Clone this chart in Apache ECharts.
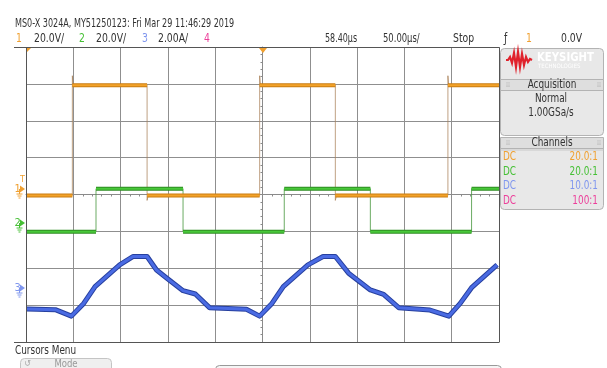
<!DOCTYPE html>
<html>
<head>
<meta charset="utf-8">
<script src="https://cdn.jsdelivr.net/npm/echarts@6/dist/echarts.min.js"></script>
<style>
  html, body { margin: 0; padding: 0; background: #fff; }
  #scope { width: 607px; height: 368px; }
</style>
</head>
<body>
<div id="scope"></div>
<script>
// ---- Captured waveform data (time in microseconds) ----
// Channel 1: switching node voltage (V)
const ch1RiseUs = [-201, -3, 196];
const ch1FallUs = [-122, 77];
const ch1HighV = 56.2;
const ch1LowV = -3.6;
const ch1SpikeV = 61.3;
const ch1DipV = -6.3;

// Channel 2: gate drive voltage (V)
const ch2RiseUs = [-176, 23, 221];
const ch2FallUs = [-84, 114];
const ch2HighV = 18.7;
const ch2LowV = -4.6;

// Channel 3: inductor current (A)
const ch3TimeUs = [-249, -219, -202, -189, -177, -151, -137, -122, -112, -101, -84, -71, -56,
                   -17, -3, 10, 22, 48, 64, 77, 91, 114, 128, 144, 177, 197, 209, 221, 248];
const ch3Amps   = [-1.13, -1.16, -1.51, -0.82, 0.09, 1.27, 1.72, 1.72, 0.99, 0.54, -0.13, -0.31, -1.05,
                   -1.14, -1.51, -0.82, 0.09, 1.27, 1.72, 1.72, 0.82, -0.09, -0.33, -1.05, -1.18, -1.51, -0.82, 0.03, 1.27];

// Vertical settings per channel: units per division and ground position (divisions from centre)
const chScale  = [20, 20, 2];
const chGround = [0.155, -0.777, -2.543];

const T_MIN = -250, T_MAX = 250;

// Build level segments and edge segments of a two-level waveform
function squareWave(rises, falls, hi, lo, spike, dip) {
  const ev = rises.map(t => ({ t, up: true })).concat(falls.map(t => ({ t, up: false })))
                  .sort((a, b) => a.t - b.t);
  const levels = [], edges = [];
  let state = lo, t0 = T_MIN;
  ev.forEach(e => {
    levels.push([t0, state], [e.t, state], '-');
    const next = e.up ? hi : lo;
    if (e.up) {
      edges.push([e.t, state], [e.t, spike !== undefined ? spike : hi], [e.t + 0.8, hi], '-');
    } else {
      edges.push([e.t, state], [e.t, dip !== undefined ? dip : lo], [e.t + 1.2, lo], '-');
    }
    state = next; t0 = e.t;
  });
  levels.push([t0, state], [T_MAX, state]);
  return { levels, edges };
}

const w1 = squareWave(ch1RiseUs, ch1FallUs, ch1HighV, ch1LowV, ch1SpikeV, ch1DipV);
const w2 = squareWave(ch2RiseUs, ch2FallUs, ch2HighV, ch2LowV);
const w3 = ch3TimeUs.map((t, i) => [t, ch3Amps[i]]);

function chAxis(i) {
  return {
    type: 'value', show: false,
    min: (-4 - chGround[i]) * chScale[i],
    max: (4 - chGround[i]) * chScale[i]
  };
}

function trace(data, axis, color, width, z) {
  return {
    type: 'line', data, yAxisIndex: axis, showSymbol: false, symbol: 'none',
    connectNulls: false, animation: false, silent: true, z: z || 2,
    lineStyle: { color, width, join: 'round', cap: 'butt' }
  };
}

const FONT = '"Liberation Sans Narrow", "DejaVu Sans Condensed", sans-serif';
const ORANGE = '#f0a030', GREEN = '#46c035', BLUE = '#7f96ee', PINK = '#ec3f9a';

// Scope-style narrow text; sx squeezes the glyphs horizontally
function txt(x, y, text, fill, size, align, weight, sx) {
  return { type: 'text', x, y, silent: true, z: 100, scaleX: sx || 0.86,
    style: { text, fill: fill || '#333', font: (weight || 'normal') + ' ' + (size || 11) + 'px ' + FONT,
             textAlign: align || 'left', textVerticalAlign: 'middle' } };
}
function line(x1, y1, x2, y2, stroke, w) {
  return { type: 'line', silent: true, z: 100, shape: { x1, y1, x2, y2 }, style: { stroke, lineWidth: w || 1 } };
}
function rect(x, y, w, h, fill, stroke, r) {
  return { type: 'rect', silent: true, z: 99, shape: { x, y, width: w, height: h, r: r || 0 },
           style: { fill, stroke, lineWidth: 1 } };
}
function poly(points, fill) {
  return { type: 'polygon', silent: true, z: 100, shape: { points }, style: { fill } };
}
// Channel ground marker on the left edge
function marker(y, label, color, withT) {
  const g = [
    txt(14.5, y, label, color, 11, 'left', 'normal', 1),
    poly([[20, y - 3.5], [25, y], [20, y + 3.5]], color),
    line(19.5, y, 19.5, y + 5, color, 1),
    line(16.5, y + 5, 22.5, y + 5, color, 1),
    line(17.5, y + 7, 21.5, y + 7, color, 1),
    line(18.5, y + 9, 20.5, y + 9, color, 1)
  ];
  if (withT) g.push(txt(20, y - 9, 'T', color, 9, 'left', 'normal', 1));
  return g;
}

const graphics = [
  // Header
  txt(15, 24, 'MS0-X 3024A, MY51250123: Fri Mar 29 11:46:29 2019', '#333', 11.5, 'left', 'normal', 0.78),
  txt(16, 39, '1', ORANGE, 12), txt(34, 39, '20.0V/', '#333', 12),
  txt(79, 39, '2', GREEN, 12), txt(96, 39, '20.0V/', '#333', 12),
  txt(142, 39, '3', BLUE, 12), txt(158, 39, '2.00A/', '#333', 12),
  txt(204, 39, '4', PINK, 12),
  txt(325, 39, '58.40µs', '#333', 12, 'left', 'normal', 0.74),
  txt(383, 39, '50.00µs/', '#333', 12, 'left', 'normal', 0.78),
  txt(453, 39, 'Stop', '#333', 12),
  txt(504, 39, 'ƒ', '#333', 12),
  txt(526, 39, '1', ORANGE, 12),
  txt(561, 39, '0.0V', '#333', 12),

  // Screen borders
  line(14, 47.5, 499, 47.5, '#555', 1),
  line(14, 342.5, 499, 342.5, '#555', 1),
  line(26.5, 47.5, 26.5, 342.5, '#555', 1),
  line(499.5, 47.5, 499.5, 342.5, '#555', 1),

  // Trigger / time reference markers
  poly([[259, 48], [267, 48], [263, 53]], ORANGE),
  poly([[27, 48], [31, 48], [27, 52]], ORANGE),

  // Right side panel: logo + acquisition
  rect(500.5, 48.5, 103, 87, '#e8e8e8', '#b3b3b3', 4),
  { type: 'polyline', silent: true, z: 101,
    shape: { points: [[506, 60], [508, 60], [510, 57], [512, 63], [514, 53], [516, 67], [518, 52], [520, 67],
                      [522, 54], [524, 65], [526, 57], [528, 62], [530, 59], [532, 60]] },
    style: { stroke: '#e0222c', lineWidth: 2.2, fill: null } },
  txt(537, 58, 'KEYSIGHT', '#ffffff', 12.5, 'left', 'bold', 0.9),
  txt(538, 66.5, 'TECHNOLOGIES', '#ffffff', 6, 'left', 'normal', 1),
  rect(500.5, 79.5, 103, 11, '#dedede', '#b3b3b3', 0),
  txt(552, 85, 'Acquisition', '#333', 11.5, 'center'),
  txt(506, 85, '⁞⁞', '#aaa', 7, 'left', 'normal', 1), txt(597, 85, '⁞⁞', '#aaa', 7, 'left', 'normal', 1),
  txt(551, 99.5, 'Normal', '#333', 11.5, 'center'),
  txt(551, 113.5, '1.00GSa/s', '#333', 11.5, 'center'),

  // Right side panel: channels
  rect(500.5, 137.5, 103, 72, '#e8e8e8', '#b3b3b3', 4),
  rect(500.5, 137.5, 103, 11, '#dedede', '#b3b3b3', 0),
  txt(552, 143.5, 'Channels', '#333', 11.5, 'center'),
  txt(506, 143.5, '⁞⁞', '#aaa', 7, 'left', 'normal', 1), txt(597, 143.5, '⁞⁞', '#aaa', 7, 'left', 'normal', 1),
  line(500.5, 150, 603.5, 150, '#c8c8c8', 1),
  txt(503, 157, 'DC', ORANGE, 11.5), txt(598, 157, '20.0:1', ORANGE, 11.5, 'right'),
  txt(503, 172, 'DC', GREEN, 11.5), txt(598, 172, '20.0:1', GREEN, 11.5, 'right'),
  txt(503, 186.5, 'DC', BLUE, 11.5), txt(598, 186.5, '10.0:1', BLUE, 11.5, 'right'),
  txt(503, 201, 'DC', PINK, 11.5), txt(598, 201, '100:1', PINK, 11.5, 'right'),

  // Bottom soft-key area
  txt(15, 351, 'Cursors Menu', '#333', 11.5),
  rect(20.5, 358.5, 91, 14, '#efefef', '#c4c4c4', 4),
  txt(24, 364, '↺', '#aaa', 9, 'left', 'normal', 1),
  txt(66, 364, 'Mode', '#999', 11, 'center'),
  rect(215.5, 365.5, 286, 10, '#f5f5f5', '#999', 4)
].concat(marker(189, '1', ORANGE, true), marker(223, '2', GREEN), marker(288, '3', BLUE));

const chart = echarts.init(document.getElementById('scope'), null, { renderer: 'canvas' });
chart.setOption({
  backgroundColor: '#ffffff',
  animation: false,
  grid: { left: 26, top: 47, width: 473, height: 295, containLabel: false },
  xAxis: {
    type: 'value', min: T_MIN, max: T_MAX, interval: 50,
    axisLine: { onZero: true, onZeroAxisIndex: 0, lineStyle: { color: '#8a8a8a', width: 1 } },
    axisTick: { show: true, length: 3, lineStyle: { color: '#8a8a8a' } },
    minorTick: { show: true, splitNumber: 5, length: 2, lineStyle: { color: '#8a8a8a' } },
    axisLabel: { show: false },
    splitLine: { show: true, lineStyle: { color: '#8f8f8f', width: 1 } }
  },
  yAxis: [
    {
      type: 'value', min: -4, max: 4, interval: 1,
      axisLine: { onZero: true, lineStyle: { color: '#8a8a8a', width: 1 } },
      axisTick: { show: true, length: 3, lineStyle: { color: '#8a8a8a' } },
      minorTick: { show: true, splitNumber: 5, length: 2, lineStyle: { color: '#8a8a8a' } },
      axisLabel: { show: false },
      splitLine: { show: true, lineStyle: { color: '#8f8f8f', width: 1 } }
    },
    chAxis(0), chAxis(1), chAxis(2)
  ],
  series: [
    trace(w1.edges, 1, 'rgba(170,130,90,0.75)', 1, 3),
    trace(w1.levels, 1, '#c97c12', 4, 4),
    trace(w1.levels, 1, '#f3a229', 2, 5),
    trace(w2.edges, 2, 'rgba(70,150,60,0.8)', 1, 3),
    trace(w2.levels, 2, '#2e8d22', 4, 4),
    trace(w2.levels, 2, '#48c83a', 2, 5),
    trace(w3, 3, '#27409f', 5, 6),
    trace(w3, 3, '#4a6be3', 3, 7)
  ],
  graphic: graphics
});
</script>
</body>
</html>
